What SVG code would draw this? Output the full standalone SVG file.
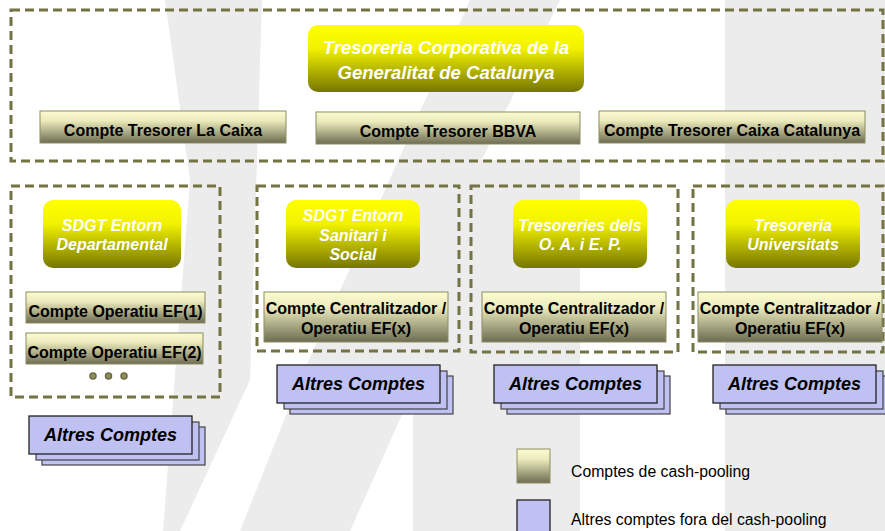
<svg xmlns="http://www.w3.org/2000/svg" width="885" height="531" viewBox="0 0 885 531">
<defs>
  <linearGradient id="gYellow" x1="0" y1="0" x2="0" y2="1">
    <stop offset="0" stop-color="#ffff00"/>
    <stop offset="0.35" stop-color="#f2f200"/>
    <stop offset="1" stop-color="#767600"/>
  </linearGradient>
  <linearGradient id="gCream" x1="0" y1="0" x2="0" y2="1">
    <stop offset="0" stop-color="#fcfcd2"/>
    <stop offset="0.3" stop-color="#ecebbc"/>
    <stop offset="1" stop-color="#6c6c52"/>
  </linearGradient>
  <style>
    .wm { fill: #ececec; }
    .panel { fill: none; stroke: #737344; stroke-width: 3; stroke-dasharray: 9 5; }
    .yel { fill: url(#gYellow); }
    .acc { fill: url(#gCream); stroke: #8d8d62; stroke-width: 1; }
    .blue { fill: #bfc1f2; stroke: #222; stroke-width: 1.3; }
    .blueb { fill: #bfc1f2; stroke: #444; stroke-width: 1.2; }
    .tw { font-family: "Liberation Sans", Arial, sans-serif; font-weight: bold; font-style: italic; fill: #ffffff; text-anchor: middle; }
    .tb { font-family: "Liberation Sans", Arial, sans-serif; font-weight: bold; fill: #000; text-anchor: middle; font-size: 16px; }
    .ta { font-family: "Liberation Sans", Arial, sans-serif; font-weight: bold; font-style: italic; fill: #000; text-anchor: middle; font-size: 18px; }
    .tl { font-family: "Liberation Sans", Arial, sans-serif; fill: #000; font-size: 15.8px; }
    .dot { fill: #8e8e62; stroke: #6b6b3c; stroke-width: 1.5; }
  </style>
  <g id="stack">
    <rect class="blueb" x="13" y="11" width="163" height="38"/>
    <rect class="blueb" x="7" y="6" width="163" height="38"/>
    <rect class="blue" x="0" y="0" width="163" height="38"/>
  </g>
</defs>
<rect width="885" height="531" fill="#ffffff"/>
<g id="watermark">
  <rect class="wm" x="725" y="0" width="160" height="531"/>
  <rect class="wm" x="413" y="160" width="167" height="371"/>
  <polygon class="wm" points="240,531 350,531 413,390 413,300 560,0 470,0 300,380"/>
  <polygon class="wm" points="165,0 262,0 250,380 180,531 163,531 190,180"/>
</g>

<g id="panels">
  <rect class="panel" x="11" y="10" width="872" height="151"/>
  <rect class="panel" x="11" y="186" width="209" height="211"/>
  <rect class="panel" x="257" y="186" width="202" height="165"/>
  <rect class="panel" x="471" y="186" width="207" height="166"/>
  <rect class="panel" x="693" y="186" width="190" height="166"/>
</g>

<g id="connectors"></g>

<g id="n-tresoreria">
  <rect class="yel" x="308" y="25" width="276" height="67" rx="10"/>
  <text class="tw" x="446" y="54" font-size="18.5">Tresoreria Corporativa de la</text>
  <text class="tw" x="446" y="79" font-size="18.5">Generalitat de Catalunya</text>
</g>
<g id="n-lacaixa">
  <rect class="acc" x="40" y="111" width="246" height="32"/>
  <text class="tb" x="163" y="136">Compte Tresorer La Caixa</text>
</g>
<g id="n-bbva">
  <rect class="acc" x="316" y="112" width="264" height="32"/>
  <text class="tb" x="448" y="137">Compte Tresorer BBVA</text>
</g>
<g id="n-caixacat">
  <rect class="acc" x="599" y="111" width="266" height="32"/>
  <text class="tb" x="732" y="136">Compte Tresorer Caixa Catalunya</text>
</g>

<g id="n-sdgt-dep">
  <rect class="yel" x="43" y="200" width="138" height="68" rx="10"/>
  <text class="tw" x="112" y="231" font-size="16">SDGT Entorn</text>
  <text class="tw" x="112" y="250" font-size="16">Departamental</text>
</g>
<g id="n-sdgt-san">
  <rect class="yel" x="286" y="200" width="134" height="68" rx="10"/>
  <text class="tw" x="353" y="221" font-size="16">SDGT Entorn</text>
  <text class="tw" x="353" y="241" font-size="16">Sanitari i</text>
  <text class="tw" x="353" y="260" font-size="16">Social</text>
</g>
<g id="n-oaep">
  <rect class="yel" x="513" y="200" width="134" height="68" rx="10"/>
  <text class="tw" x="580" y="231" font-size="16">Tresoreries dels</text>
  <text class="tw" x="580" y="250" font-size="16">O. A. i  E. P.</text>
</g>
<g id="n-univ">
  <rect class="yel" x="726" y="200" width="134" height="68" rx="10"/>
  <text class="tw" x="793" y="231" font-size="16">Tresoreria</text>
  <text class="tw" x="793" y="250" font-size="16">Universitats</text>
</g>

<g id="n-ef1">
  <rect class="acc" x="26" y="292" width="179" height="31"/>
  <text class="tb" x="115.5" y="317">Compte Operatiu EF(1)</text>
</g>
<g id="n-ef2">
  <rect class="acc" x="26" y="333" width="177" height="31"/>
  <text class="tb" x="114.5" y="358">Compte Operatiu EF(2)</text>
</g>
<g id="n-dots">
  <circle class="dot" cx="93" cy="376" r="3"/>
  <circle class="dot" cx="108.5" cy="376" r="3"/>
  <circle class="dot" cx="124" cy="376" r="3"/>
</g>
<g id="n-cent-san">
  <rect class="acc" x="264" y="292" width="184" height="50"/>
  <text class="tb" x="356" y="314">Compte Centralitzador /</text>
  <text class="tb" x="356" y="334">Operatiu EF(x)</text>
</g>
<g id="n-cent-oaep">
  <rect class="acc" x="482" y="292" width="184" height="50"/>
  <text class="tb" x="574" y="314">Compte Centralitzador /</text>
  <text class="tb" x="574" y="334">Operatiu EF(x)</text>
</g>
<g id="n-cent-univ">
  <rect class="acc" x="698" y="292" width="184" height="50"/>
  <text class="tb" x="790" y="314">Compte Centralitzador /</text>
  <text class="tb" x="790" y="334">Operatiu EF(x)</text>
</g>

<g id="n-altres1">
  <use href="#stack" x="29" y="416"/>
  <text class="ta" x="110.5" y="441">Altres Comptes</text>
</g>
<g id="n-altres2">
  <use href="#stack" x="277" y="365"/>
  <text class="ta" x="358.5" y="390">Altres Comptes</text>
</g>
<g id="n-altres3">
  <use href="#stack" x="494" y="365"/>
  <text class="ta" x="575.5" y="390">Altres Comptes</text>
</g>
<g id="n-altres4">
  <use href="#stack" x="713" y="365"/>
  <text class="ta" x="794.5" y="390">Altres Comptes</text>
</g>

<g id="legend">
  <rect class="acc" x="517" y="449" width="33" height="34" stroke="#77774a"/>
  <text class="tl" x="571" y="477">Comptes de cash-pooling</text>
  <rect x="517" y="500" width="33" height="40" fill="#bfc1f2" stroke="#222" stroke-width="1.3"/>
  <text class="tl" x="571" y="525">Altres comptes fora del cash-pooling</text>
</g>
</svg>
